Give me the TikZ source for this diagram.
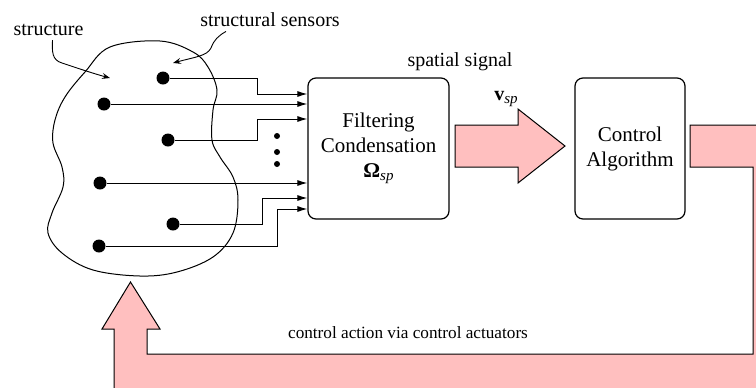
\documentclass[tikz,border=0pt]{standalone}
\usepackage{fontspec}
\setmainfont{Liberation Serif}
\usetikzlibrary{arrows.meta}
\definecolor{pinkfill}{RGB}{255,191,191}
\newcommand{\subsp}{\raisebox{-0.35ex}{\fontsize{7.5}{8}\selectfont\itshape sp}}
\tikzset{
  dot/.style={circle,fill=black,inner sep=0pt,minimum size=6.5pt},
  smalldot/.style={circle,fill=black,inner sep=0pt,minimum size=3pt},
  sig/.style={line width=0.5pt,-{Latex[length=5pt,width=3pt]}},
  curly/.style={line width=0.45pt,-{Stealth[length=4pt,width=3pt,inset=1.5pt]}},
  blockbox/.style={draw,line width=0.6pt,rounded corners=4pt,align=center,font=\fontsize{10.5}{12.5}\selectfont,inner sep=0pt},
  fat/.style={draw,line width=0.5pt,fill=pinkfill,line join=miter},
  lbl/.style={font=\fontsize{10}{12}\selectfont,inner sep=0pt}
}
\begin{document}
\begin{tikzpicture}[x=0.5pt,y=-0.5pt]
\useasboundingbox (0,0) rectangle (756,387);
% blob
\draw[line width=0.5pt] plot[smooth cycle,tension=0.6] coordinates {
(160,41) (110,47) (85,72) (65,97) (55,120) (53,143) (62,167) (63,187) (52,213) (48,233) (62,253) (93,270) (140,276) (177,272) (213,257) (233,233) (238,200) (233,177) (220,157) (212,140) (213,110) (217,90) (208,67) (193,52)};
% sensors
\node[dot] (s1) at (163,78) {};
\node[dot] (s2) at (104,104) {};
\node[dot] (s3) at (168,140) {};
\node[dot] (s4) at (100,183) {};
\node[dot] (s5) at (173,224) {};
\node[dot] (s6) at (99,246) {};
\node[smalldot] (d1) at (277,136) {};
\node[smalldot] (d2) at (277,152) {};
\node[smalldot] (d3) at (277,164) {};
% blocks
\node[blockbox,minimum width=70.5pt,minimum height=70.5pt] (filt) at (378.5,148.5) {Filtering\\Condensation\\\textbf{Ω}\subsp};
\node[blockbox,minimum width=55pt,minimum height=70.5pt] (ctrl) at (630,148.5) {Control\\Algorithm};
% signal lines
\draw[sig] (s1) -| (257,94) -- (filt.west |- 0,94);
\draw[sig] (s2) -- (filt.west |- 0,104);
\draw[sig] (s3) -| (257,119) -- (filt.west |- 0,119);
\draw[sig] (s4) -- (filt.west |- 0,183);
\draw[sig] (s5) -| (262,198) -- (filt.west |- 0,198);
\draw[sig] (s6) -| (277,209) -- (filt.west |- 0,209);
% labels
\node[lbl] (lstruct) at (48.5,30) {structure};
\node[lbl] (lsens) at (270,20) {structural sensors};
\node[lbl] (lspat) at (460,62) {spatial signal};
\node[lbl] (lv) at (506,99) {\textbf{v}\subsp};
\node[lbl,font=\fontsize{8.6}{10}\selectfont] (lact) at (408,333) {control action via control actuators};
\coordinate (t1) at (110,78);
\coordinate (t2) at (173,63);
\draw[curly] ([xshift=2pt,yshift=-2pt]lstruct.south) .. controls (52,52) and (52,60) .. (62,63) .. controls (80,69) and (95,74) .. (t1);
\draw[curly] ([xshift=-22pt,yshift=-2pt]lsens.south) .. controls (218,36) and (214,40) .. (211,48) .. controls (207,56) and (195,57) .. (t2);
% spatial signal arrow
\draw[fat] (455,125) -- (518,125) -- (518,109) -- (565,146) -- (518,183) -- (518,167) -- (455,167) -- cycle;
% feedback arrow
\begin{scope}
\clip (0,0) rectangle (756,387);
\draw[fat] (690,125) -- (800,125) -- (800,420) -- (114,420) -- (114,329) -- (102,329) -- (130.5,282) -- (160,329) -- (147,329) -- (147,354) -- (753,354) -- (753,167) -- (690,167) -- cycle;
\end{scope}
\end{tikzpicture}
\end{document}
